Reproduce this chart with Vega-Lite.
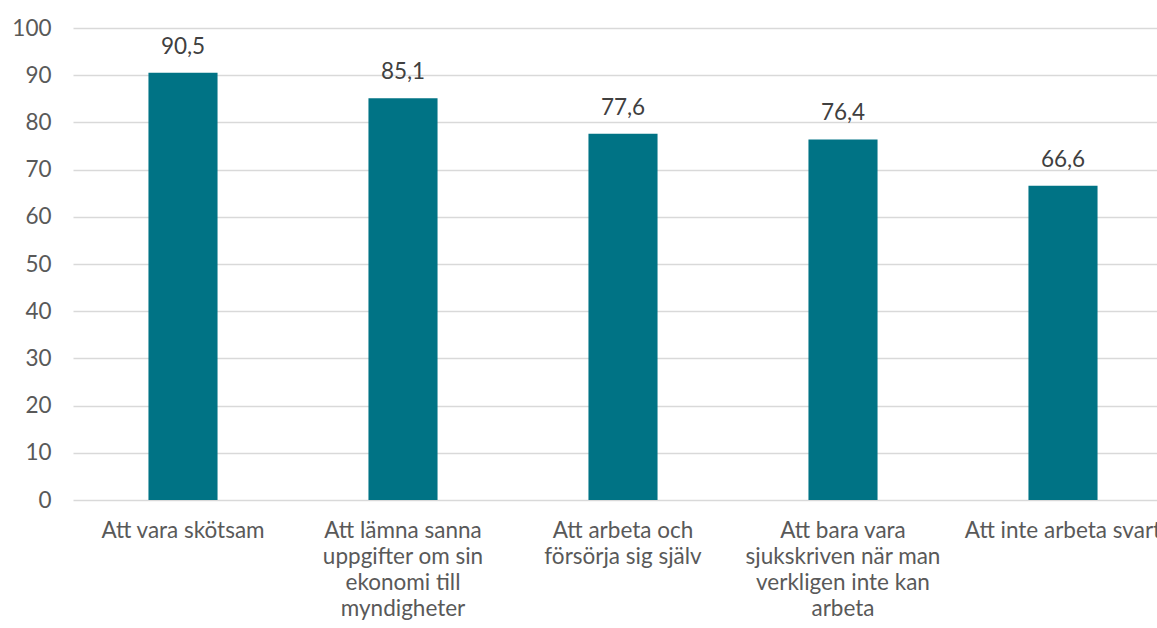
{
  "$schema": "https://vega.github.io/schema/vega-lite/v6.json",
  "autosize": {"type": "none"},
  "padding": {"left": 73, "top": 28, "right": -16, "bottom": 128},
  "width": 1100,
  "height": 472,
  "config": {
    "view": {"stroke": null},
    "font": "Lato",
    "locale": {"number": {"decimal": ",", "thousands": " ", "grouping": [3], "currency": ["", " kr"]}}
  },
  "data": {
    "values": [
      {"kategori": "Att vara skötsam", "andel": 90.5},
      {"kategori": "Att lämna sanna\nuppgifter om sin\nekonomi till\nmyndigheter", "andel": 85.1},
      {"kategori": "Att arbeta och\nförsörja sig själv", "andel": 77.6},
      {"kategori": "Att bara vara\nsjukskriven när man\nverkligen inte kan\narbeta", "andel": 76.4},
      {"kategori": "Att inte arbeta svart", "andel": 66.6}
    ]
  },
  "encoding": {
    "x": {
      "field": "kategori", "type": "nominal", "sort": null,
      "scale": {"paddingInner": 0.686, "paddingOuter": 0.343},
      "axis": {
        "title": null, "labelAngle": 0, "domain": false, "ticks": false,
        "labelExpr": "split(datum.label, '\\n')",
        "labelFontSize": 22.5, "labelColor": "#595959", "labelLineHeight": 26,
        "labelPadding": 19, "labelLimit": 400, "labelFont": "Lato"
      }
    },
    "y": {
      "field": "andel", "type": "quantitative",
      "scale": {"domain": [0, 100], "nice": false},
      "axis": {
        "title": null, "values": [0,10,20,30,40,50,60,70,80,90,100],
        "domain": false, "ticks": false, "labelPadding": 22,
        "labelFontSize": 22.5, "labelColor": "#595959", "labelFont": "Lato",
        "gridColor": "#d9d9d9", "gridWidth": 1.5
      }
    }
  },
  "layer": [
    {"mark": {"type": "bar", "color": "#007385"}},
    {
      "mark": {"type": "text", "dy": -26, "fontSize": 22.5, "color": "#404040", "font": "Lato"},
      "encoding": {"text": {"field": "andel", "type": "quantitative", "format": ".1f"}}
    }
  ]
}
